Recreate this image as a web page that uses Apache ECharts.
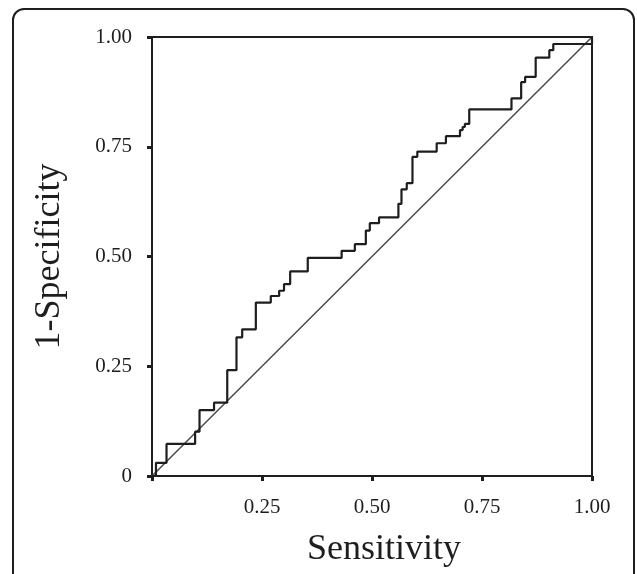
<!DOCTYPE html>
<html>
<head>
<meta charset="utf-8">
<script src="https://cdn.jsdelivr.net/npm/echarts@6/dist/echarts.min.js"></script>
<style>
  html, body { margin: 0; padding: 0; background: #fff; }
  #chart { width: 637px; height: 574px; }
</style>
</head>
<body>
<div id="chart"></div>
<script>
// ROC step curve corners (horizontal move first, then vertical)
const rocX = [0, 0.009, 0.033, 0.098, 0.108, 0.141, 0.171, 0.192, 0.205, 0.236,
  0.270, 0.289, 0.300, 0.314, 0.354, 0.431, 0.461, 0.486, 0.495, 0.516,
  0.560, 0.567, 0.579, 0.592, 0.603, 0.647, 0.668, 0.700, 0.706, 0.711,
  0.721, 0.817, 0.839, 0.848, 0.872, 0.903, 0.912, 1.000]
const rocY = [0, 0.030, 0.073, 0.101, 0.150, 0.167, 0.241, 0.316, 0.334, 0.395,
  0.410, 0.422, 0.437, 0.466, 0.497, 0.513, 0.528, 0.559, 0.576, 0.589,
  0.620, 0.653, 0.667, 0.727, 0.739, 0.758, 0.774, 0.788, 0.795, 0.802,
  0.835, 0.860, 0.897, 0.909, 0.953, 0.970, 0.984, 1.000]
const refX = [0, 1]
const refY = [0, 1]

const ink = '#1e1e1e'
const serif = '"Liberation Serif", "DejaVu Serif", serif'

const chart = echarts.init(document.getElementById('chart'))

const axisCommon = {
  type: 'value',
  min: 0,
  max: 1,
  interval: 0.25,
  nameLocation: 'middle',
  axisLine: { show: true, lineStyle: { color: ink, width: 2 } },
  axisTick: { show: true, length: 5, lineStyle: { color: ink, width: 3 } },
  splitLine: { show: false }
}

chart.setOption({
  animation: false,
  graphic: [
    {
      type: 'rect',
      shape: { x: 13, y: 9, width: 621, height: 620, r: 11 },
      style: { fill: 'none', stroke: ink, lineWidth: 2 },
      silent: true
    }
  ],
  grid: {
    left: 152,
    right: 45,
    top: 37,
    bottom: 98,
    show: true,
    borderColor: ink,
    borderWidth: 2,
    backgroundColor: 'transparent'
  },
  xAxis: Object.assign({}, axisCommon, {
    name: 'Sensitivity',
    nameGap: 56,
    nameTextStyle: {
      fontFamily: serif,
      fontSize: 36,
      color: ink,
      padding: [0, 0, 0, 24]
    },
    axisLabel: {
      margin: 21,
      fontFamily: serif,
      fontSize: 21,
      color: ink,
      formatter: (v) => (v === 0 ? '' : v.toFixed(2))
    }
  }),
  yAxis: Object.assign({}, axisCommon, {
    name: '1-Specificity',
    nameGap: 84,
    nameTextStyle: { fontFamily: serif, fontSize: 36, color: ink },
    axisLabel: {
      margin: 20,
      fontFamily: serif,
      fontSize: 21,
      color: ink,
      formatter: (v) => (v === 0 ? '0' : v.toFixed(2))
    }
  }),
  series: [
    {
      type: 'line',
      data: refX.map((x, i) => [x, refY[i]]),
      symbol: 'none',
      lineStyle: { color: '#4a4a4a', width: 1.5 },
      z: 2
    },
    {
      type: 'line',
      step: 'end',
      data: rocX.map((x, i) => [x, rocY[i]]),
      symbol: 'none',
      lineStyle: { color: ink, width: 2.2 },
      z: 3
    }
  ]
})
</script>
</body>
</html>
